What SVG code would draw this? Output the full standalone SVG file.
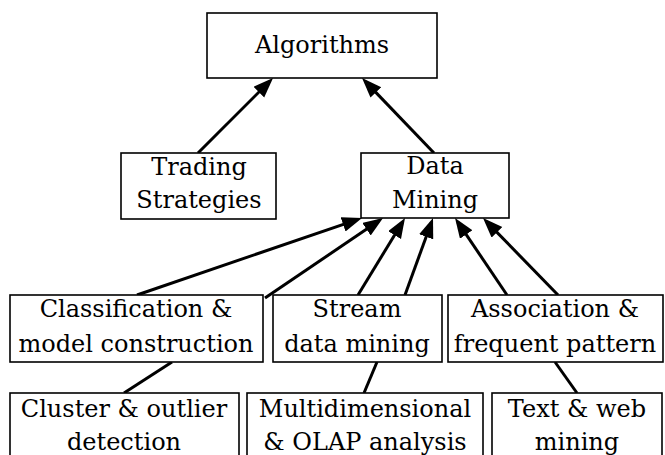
<svg xmlns="http://www.w3.org/2000/svg" width="665" height="455" viewBox="0 0 665 455">
<defs>
<style>
.box{fill:#fff;stroke:#000;stroke-width:1.6}
.t{font-size:24px;fill:#000;text-anchor:middle}
.c{stroke:#000;stroke-width:3;fill:none}
.a{marker-end:url(#ah)}
</style>
<marker id="ah" markerUnits="userSpaceOnUse" markerWidth="22" markerHeight="16" refX="15" refY="7.5" orient="auto">
<path d="M0,0 L20,7.5 L0,15 z" fill="#000"/>
</marker>
</defs>
<rect width="665" height="455" fill="#fff"/>
<g id="connectors">
<line class="c a" x1="198" y1="153" x2="269.5" y2="81.5"/>
<line class="c a" x1="434" y1="153" x2="365.5" y2="81.6"/>
<line class="c a" x1="137" y1="295" x2="357.3" y2="219.6"/>
<line class="c a" x1="265" y1="298" x2="378.9" y2="220.8"/>
<line class="c a" x1="358" y1="295" x2="402.4" y2="222.3"/>
<line class="c a" x1="405" y1="295" x2="431.3" y2="222.7"/>
<line class="c a" x1="507" y1="295" x2="457.8" y2="222.1"/>
<line class="c a" x1="558" y1="295" x2="486.5" y2="221.6"/>
<line class="c" x1="172" y1="362" x2="124" y2="393"/>
<line class="c" x1="377" y1="362" x2="364" y2="393"/>
<line class="c" x1="555" y1="362" x2="577" y2="393"/>
</g>
<g id="algorithms">
<rect class="box" x="207" y="13" width="230" height="65"/>
<text class="t" style="font-family:'DejaVu Serif',serif" x="322" y="53">Algorithms</text>
</g>
<g id="trading">
<rect class="box" x="121" y="153" width="155" height="66"/>
<text class="t" style="font-family:'DejaVu Serif',serif" x="199" y="175">Trading</text>
<text class="t" style="font-family:'DejaVu Serif',serif" x="199" y="208">Strategies</text>
</g>
<g id="datamining">
<rect class="box" x="361" y="153" width="148" height="65"/>
<text class="t" style="font-family:'DejaVu Serif',serif" x="435" y="174">Data</text>
<text class="t" style="font-family:'DejaVu Serif',serif" x="435" y="208">Mining</text>
</g>
<g id="classification">
<rect class="box" x="10" y="295" width="253" height="67"/>
<text class="t" style="font-family:'DejaVu Serif',serif" x="136" y="317">Classification &amp;</text>
<text class="t" style="font-family:'DejaVu Serif',serif" x="136" y="352">model construction</text>
</g>
<g id="stream">
<rect class="box" x="273" y="295" width="169" height="67"/>
<text class="t" style="font-family:'DejaVu Serif',serif" x="357" y="317">Stream</text>
<text class="t" style="font-family:'DejaVu Serif',serif" x="357" y="352">data mining</text>
</g>
<g id="association">
<rect class="box" x="448" y="295" width="215" height="67"/>
<text class="t" style="font-family:'DejaVu Serif',serif" x="555" y="317">Association &amp;</text>
<text class="t" style="font-family:'DejaVu Serif',serif" x="555" y="352">frequent pattern</text>
</g>
<g id="cluster">
<rect class="box" x="10" y="393" width="229" height="70"/>
<text class="t" style="font-family:'DejaVu Serif',serif" x="124" y="417">Cluster &amp; outlier</text>
<text class="t" style="font-family:'DejaVu Serif',serif" x="124" y="450">detection</text>
</g>
<g id="multidimensional">
<rect class="box" x="247" y="393" width="236" height="70"/>
<text class="t" style="font-family:'DejaVu Serif',serif" x="365" y="417">Multidimensional</text>
<text class="t" style="font-family:'DejaVu Serif',serif" x="365" y="450">&amp; OLAP analysis</text>
</g>
<g id="textweb">
<rect class="box" x="492" y="393" width="170" height="70"/>
<text class="t" style="font-family:'DejaVu Serif',serif" x="577" y="417">Text &amp; web</text>
<text class="t" style="font-family:'DejaVu Serif',serif" x="577" y="450">mining</text>
</g>
</svg>
